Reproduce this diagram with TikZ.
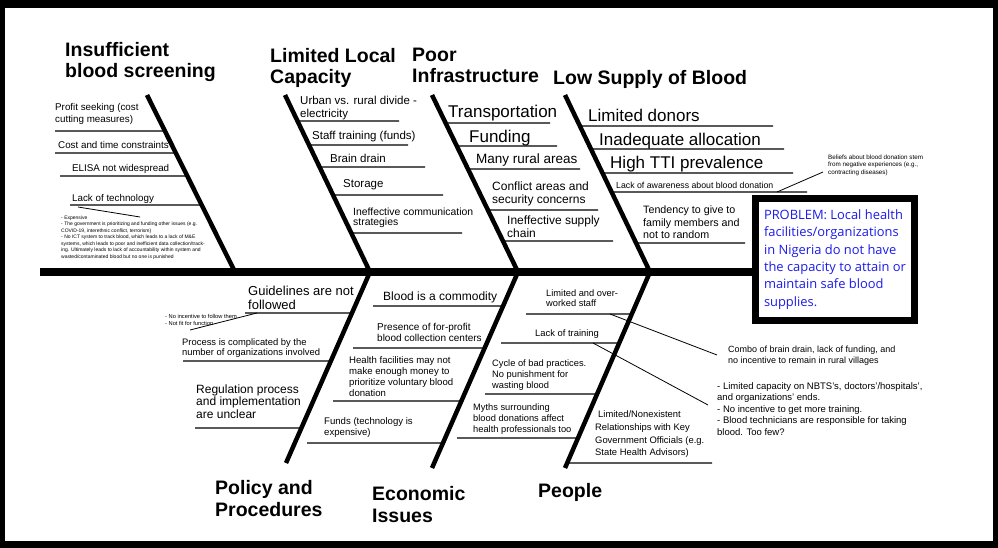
\documentclass[tikz,border=0pt]{standalone}
\usepackage{fontspec}
\setmainfont{Liberation Sans}
\newfontfamily\probfont{Open Sans}
\usepackage{tikz}
\usetikzlibrary{calc, positioning}
\definecolor{probblue}{RGB}{28,28,235}

\begin{document}
\begin{tikzpicture}[x=1pt, y=-1pt,
  txt/.style={anchor=base west, inner sep=0pt, align=left},
  fs/.style 2 args={font=\fontsize{#1}{#2}\selectfont},
  head/.style={txt, font=\fontsize{19.5}{21.5}\selectfont\bfseries},
  bone/.style={line width=4.5pt},
  spine/.style={line width=8.5pt},
  uline/.style={line width=1.2pt},
  link/.style={line width=0.8pt},
  probbox/.style={draw, line width=7pt, minimum width=159pt,
    minimum height=122pt, inner sep=0pt, align=left, text=probblue,
    font=\probfont\fontsize{12.9}{17.4}\selectfont}]
\useasboundingbox (0,0) rectangle (998,548);
\fill[black] (0,0) rectangle (998,548);
\fill[white] (5,8) rectangle (993,541);
%
% problem box and spine
\node[probbox] (prob) at (835,259.5) {PROBLEM: Local health\\facilities/organizations\\in Nigeria do not have\\the capacity to attain or\\maintain safe blood\\supplies.};
\coordinate (tail) at (40,272);
\draw[spine] (tail) -- (tail -| prob.west);
%
% bones
\coordinate (scrT) at (147,95);  \coordinate (scrS) at (235,272);
\coordinate (capT) at (285,95);  \coordinate (capS) at (370,272);
\coordinate (infT) at (432,95);  \coordinate (infS) at (518,272);
\coordinate (supT) at (565,95);  \coordinate (supS) at (650,272);
\coordinate (polE) at (286,463);
\coordinate (ecoE) at (432,468);
\coordinate (pplE) at (565,468);
\draw[bone] (scrT) -- (scrS);
\draw[bone] (capT) -- (capS) -- (polE);
\draw[bone] (infT) -- (infS) -- (ecoE);
\draw[bone] (supT) -- (supS) -- (pplE);
%
% headings (multi-line nodes sit on their last line)
\node[head] (hscr) at (65,78) {Insufficient\\blood screening};
\node[head] (hcap) at (270,84) {Limited Local\\Capacity};
\node[head] (hinf) at (412,83) {Poor\\Infrastructure};
\node[head] (hsup) at (553,85) {Low Supply of Blood};
\node[head] (hpol) at (215,516) {Policy and\\Procedures};
\node[head] (heco) at (372,522) {Economic\\Issues};
\node[head] (hppl) at (538,497) {People};
%
% insufficient blood screening
\node[txt, fs={9.8}{12}] (profit) at (55,123) {Profit seeking (cost\\cutting measures)};
\node[txt, fs={9.8}{12}] (costtime) at (58,149) {Cost and time constraints};
\node[txt, fs={9.8}{12}] (elisa) at (72,172) {ELISA not widespread};
\node[txt, fs={9.8}{12}] (lacktech) at (72,202) {Lack of technology};
\node[txt, fs={5}{6.5}] (technote) at (61,258) {- Expensive\\- The government is prioritizing and funding other issues (e.g.\\COVID-19, interethnic conflict, terrorism)\\- No ICT system to track blood, which leads to a lack of M\&E\\systems, which leads to poor and inefficient data collection/track-\\ing. Ultimately leads to lack of accountability within system and\\wasted/contaminated blood but no one is punished};
\draw[uline] (55,131) -- ($(scrT)!.203!(scrS)$);
\draw[uline] (55,153) -- ($(scrT)!.328!(scrS)$);
\draw[uline] (60,176) -- ($(scrT)!.458!(scrS)$);
\draw[uline] (70,205) -- ($(scrT)!.621!(scrS)$);
\coordinate (techA) at (78,207);
\coordinate (techB) at (140,217);
\draw[link] (techA) -- (techB);
%
% limited local capacity
\node[txt, fs={11.5}{12.3}] (urban) at (300,117.3) {Urban vs. rural divide -\\electricity};
\node[txt, fs={11.5}{12.3}] (stafftr) at (312,140) {Staff training (funds)};
\node[txt, fs={11.5}{12.3}] (brain) at (330,163) {Brain drain};
\node[txt, fs={11.5}{12.3}] (storage) at (343,188) {Storage};
\node[txt, fs={10.4}{10.7}] (comm) at (353,225.7) {Ineffective communication\\strategies};
\draw[uline] ($(capT)!.147!(capS)$) -- (399,121);
\draw[uline] ($(capT)!.282!(capS)$) -- (408,145);
\draw[uline] ($(capT)!.407!(capS)$) -- (425,167);
\draw[uline] ($(capT)!.565!(capS)$) -- (443,195);
\draw[uline] ($(capT)!.780!(capS)$) -- (462,233);
%
% poor infrastructure
\node[txt, fs={17}{20}] (transp) at (448,118) {Transportation};
\node[txt, fs={17}{20}] (funding) at (469,142.5) {Funding};
\node[txt, fs={13.5}{15}] (rural) at (476,164) {Many rural areas};
\node[txt, fs={12}{13.3}] (conflict) at (492,203.3) {Conflict areas and\\security concerns};
\node[txt, fs={12}{12.3}] (supply) at (507,237.3) {Ineffective supply\\chain};
\draw[uline] ($(infT)!.158!(infS)$) -- (550,123);
\draw[uline] ($(infT)!.288!(infS)$) -- (557,146);
\draw[uline] ($(infT)!.418!(infS)$) -- (580,169);
\draw[uline] ($(infT)!.650!(infS)$) -- (598,210);
\draw[uline] ($(infT)!.825!(infS)$) -- (613,241);
%
% low supply of blood
\node[txt, fs={17}{20}] (donors) at (588,122) {Limited donors};
\node[txt, fs={17}{20}] (alloc) at (599,146) {Inadequate allocation};
\node[txt, fs={17}{20}] (tti) at (610,169) {High TTI prevalence};
\node[txt, fs={8.75}{10}] (aware) at (616,188.5) {Lack of awareness about blood donation};
\node[txt, fs={10.7}{12.5}] (tendency) at (643,238.5) {Tendency to give to\\family members and\\not to random};
\node[txt, fs={6.3}{7.5}] (awarenote) at (828,174.5) {Beliefs about blood donation stem\\from negative experiences (e.g.,\\contracting diseases)};
\draw[uline] ($(supT)!.175!(supS)$) -- (773,126);
\draw[uline] ($(supT)!.305!(supS)$) -- (784,149);
\draw[uline] ($(supT)!.441!(supS)$) -- (793,173);
\draw[uline] ($(supT)!.548!(supS)$) -- (807,192);
\draw[uline] ($(supT)!.836!(supS)$) -- (745,243);
\coordinate (awareA) at (777,192);
\coordinate (awareB) at (823,172);
\draw[link] (awareA) -- (awareB);
%
% policy and procedures
\node[txt, fs={13}{14}] (guide) at (248,309) {Guidelines are not\\followed};
\node[txt, fs={5.7}{7}] (guidenote) at (165,325) {- No incentive to follow them\\- Not fit for function};
\node[txt, fs={9.4}{10.7}] (process) at (182,355.7) {Process is complicated by the\\number of organizations involved};
\node[txt, fs={12}{12.9}] (regul) at (196,418.8) {Regulation process\\and implementation\\are unclear};
\draw[uline] (245,313) -- ($(capS)!.215!(polE)$);
\draw[uline] (183,361) -- ($(capS)!.466!(polE)$);
\draw[uline] (195,428) -- ($(capS)!.817!(polE)$);
\coordinate (guideA) at (257,313);
\coordinate (guideB) at (190,330);
\draw[link] (guideA) -- (guideB);
%
% economic issues
\node[txt, fs={12}{14}] (commod) at (383,300) {Blood is a commodity};
\node[txt, fs={10}{11.7}] (forprofit) at (377,341.7) {Presence of for-profit\\blood collection centers};
\node[txt, fs={9.6}{11.1}] (healthfac) at (349,396.3) {Health facilities may not\\make enough money to\\prioritize voluntary blood\\donation};
\node[txt, fs={9.6}{11}] (funds) at (324,435) {Funds (technology is\\expensive)};
\draw[uline] (373,306) -- ($(infS)!.173!(ecoE)$);
\draw[uline] (353,348) -- ($(infS)!.388!(ecoE)$);
\draw[uline] (333,401) -- ($(infS)!.658!(ecoE)$);
\draw[uline] (307,443) -- ($(infS)!.872!(ecoE)$);
%
% people
\node[txt, fs={9.3}{10}] (overwork) at (546,306.5) {Limited and over-\\worked staff};
\node[txt, fs={9.4}{10}] (training) at (535,336) {Lack of training};
\node[txt, fs={9.3}{11.2}] (cycle) at (492,388.9) {Cycle of bad practices.\\No punishment for\\wasting blood};
\node[txt, fs={9.3}{10.8}] (myths) at (473,432.1) {Myths surrounding\\blood donations affect\\health professionals too};
\node[txt, fs={9.4}{12.8}] (relations) at (595,455.9) {\hspace*{3pt}Limited/Nonexistent\\Relationships with Key\\Government Officials (e.g.\\State Health Advisors)};
\node[txt, fs={9}{11}] (combonote) at (728,363) {Combo of brain drain, lack of funding, and\\no incentive to remain in rural villages};
\node[txt, fs={9.5}{11.4}] (capnote) at (717,435.1) {- Limited capacity on NBTS's, doctors'/hospitals',\\and organizations' ends.\\- No incentive to get more training.\\- Blood technicians are responsible for taking\\blood. Too few?};
\draw[uline] (526,314) -- ($(supS)!.214!(pplE)$);
\draw[uline] (501,343) -- ($(supS)!.362!(pplE)$);
\draw[uline] (485,394) -- ($(supS)!.622!(pplE)$);
\draw[uline] (457,438) -- ($(supS)!.847!(pplE)$);
\draw[uline] ($(supS)!.974!(pplE)$) -- (712,463);
\coordinate (staffA) at (610,314);
\coordinate (staffB) at (717,355);
\coordinate (trainA) at (593,343);
\coordinate (trainB) at (708,405);
\draw[link] (staffA) -- (staffB);
\draw[link] (trainA) -- (trainB);
\end{tikzpicture}
\end{document}
